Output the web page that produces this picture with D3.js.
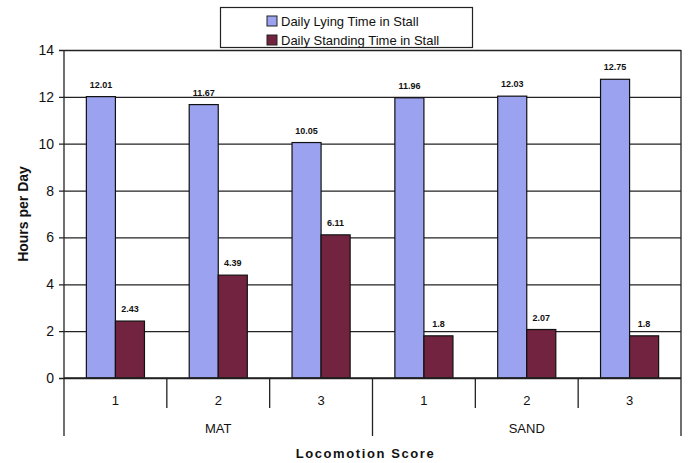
<!DOCTYPE html>
<html><head><meta charset="utf-8">
<script src="https://cdn.jsdelivr.net/npm/d3@7/dist/d3.min.js"></script>
<style>body{margin:0;background:#fff;} svg{display:block;font-family:"Liberation Sans",Arial,sans-serif;}</style>
</head><body>
<svg id="c" width="689" height="463"></svg>
<script>
const groups = ["MAT","SAND"];
const scores = ["1","2","3"];
const seriesNames = ["Daily Lying Time in Stall","Daily Standing Time in Stall"];
const lying = [12.01, 11.67, 10.05, 11.96, 12.03, 12.75];
const standing = [2.43, 4.39, 6.11, 1.8, 2.07, 1.8];
const yTicks = [0,2,4,6,8,10,12,14];
const colors = ["#9ba2f0","#72233f"];

const cats = [];
groups.forEach(g => scores.forEach(s => cats.push(g + "-" + s)));
const data = cats.map((c,i) => ({cat:c, score:c.split("-")[1], vals:[lying[i], standing[i]]}));

const svg = d3.select("#c");
const L = 64, R = 681, T = 50, B = 378;
const x0 = d3.scaleBand().domain(cats).range([L,R]).paddingInner(0).paddingOuter(0);
const x1 = d3.scaleBand().domain([0,1]).range([0,x0.bandwidth()]).paddingInner(0).paddingOuter(0.77);
const y = d3.scaleLinear().domain([0,14]).range([B,T]);

// gridlines + y axis
const yAxis = d3.axisLeft(y).tickValues(yTicks).tickSize(-(R-L)).tickSizeOuter(0).tickPadding(10);
const gy = svg.append("g").attr("transform",`translate(${L},0)`).call(yAxis);
gy.select(".domain").remove();
gy.selectAll(".tick line").attr("x1",-5).attr("stroke","#222").attr("stroke-width",1.3);
gy.selectAll(".tick text").attr("font-size",14).attr("fill","#111").attr("font-family","Liberation Sans, Arial, sans-serif");

// bars
const gBars = svg.append("g");
data.forEach(d => {
  d.vals.forEach((v,j) => {
    const bx = x0(d.cat) + x1(j);
    gBars.append("rect").attr("x",bx).attr("y",y(v)).attr("width",x1.bandwidth()).attr("height",y(0)-y(v))
      .attr("fill",colors[j]).attr("stroke","#111").attr("stroke-width",1.2);
    gBars.append("text").attr("x",bx + x1.bandwidth()/2).attr("y",y(v)-9).attr("text-anchor","middle")
      .attr("font-size",9).attr("font-weight","bold").attr("fill","#111").text(v);
  });
});

// plot frame: left axis, right border, baseline
svg.append("line").attr("x1",L).attr("x2",L).attr("y1",T).attr("y2",436).attr("stroke","#222").attr("stroke-width",1.3);
svg.append("line").attr("x1",R).attr("x2",R).attr("y1",T).attr("y2",436).attr("stroke","#222").attr("stroke-width",1.3);
svg.append("line").attr("x1",L).attr("x2",R).attr("y1",B).attr("y2",B).attr("stroke","#222").attr("stroke-width",1.5);

// category dividers
cats.forEach((c,i) => {
  if (i === 0) return;
  const xx = x0(c);
  const long = (i % scores.length === 0);
  svg.append("line").attr("x1",xx).attr("x2",xx).attr("y1",B).attr("y2",long?436:408).attr("stroke","#222").attr("stroke-width",1.3);
});
// score labels
data.forEach(d => {
  svg.append("text").attr("x",x0(d.cat)+x0.bandwidth()/2).attr("y",405).attr("text-anchor","middle")
    .attr("font-size",13).attr("fill","#111").text(d.score);
});
// group labels
groups.forEach((g,gi) => {
  const first = x0(g+"-"+scores[0]);
  const last = x0(g+"-"+scores[scores.length-1]) + x0.bandwidth();
  svg.append("text").attr("x",(first+last)/2).attr("y",433).attr("text-anchor","middle")
    .attr("font-size",13).attr("fill","#111").text(g);
});

// axis titles
svg.append("text").attr("x",(L+R)/2-7).attr("y",458).attr("text-anchor","middle")
  .attr("font-size",13).attr("font-weight","bold").attr("letter-spacing",1.6).attr("fill","#111").text("Locomotion Score");
svg.append("text").attr("transform",`translate(28,${(T+B)/2}) rotate(-90)`).attr("text-anchor","middle")
  .attr("font-size",14).attr("font-weight","bold").attr("fill","#111").text("Hours per Day");

// legend
const lg = svg.append("g");
lg.append("rect").attr("x",220.5).attr("y",7.5).attr("width",252).attr("height",40).attr("fill","#fff").attr("stroke","#222").attr("stroke-width",1.2);
seriesNames.forEach((n,i) => {
  const cy = 21 + i*19;
  lg.append("rect").attr("x",267).attr("y",cy-5).attr("width",10).attr("height",10).attr("fill",colors[i]).attr("stroke","#222").attr("stroke-width",1);
  lg.append("text").attr("x",281).attr("y",cy+4.5).attr("font-size",13).attr("fill","#111").text(n);
});
</script>
</body></html>
